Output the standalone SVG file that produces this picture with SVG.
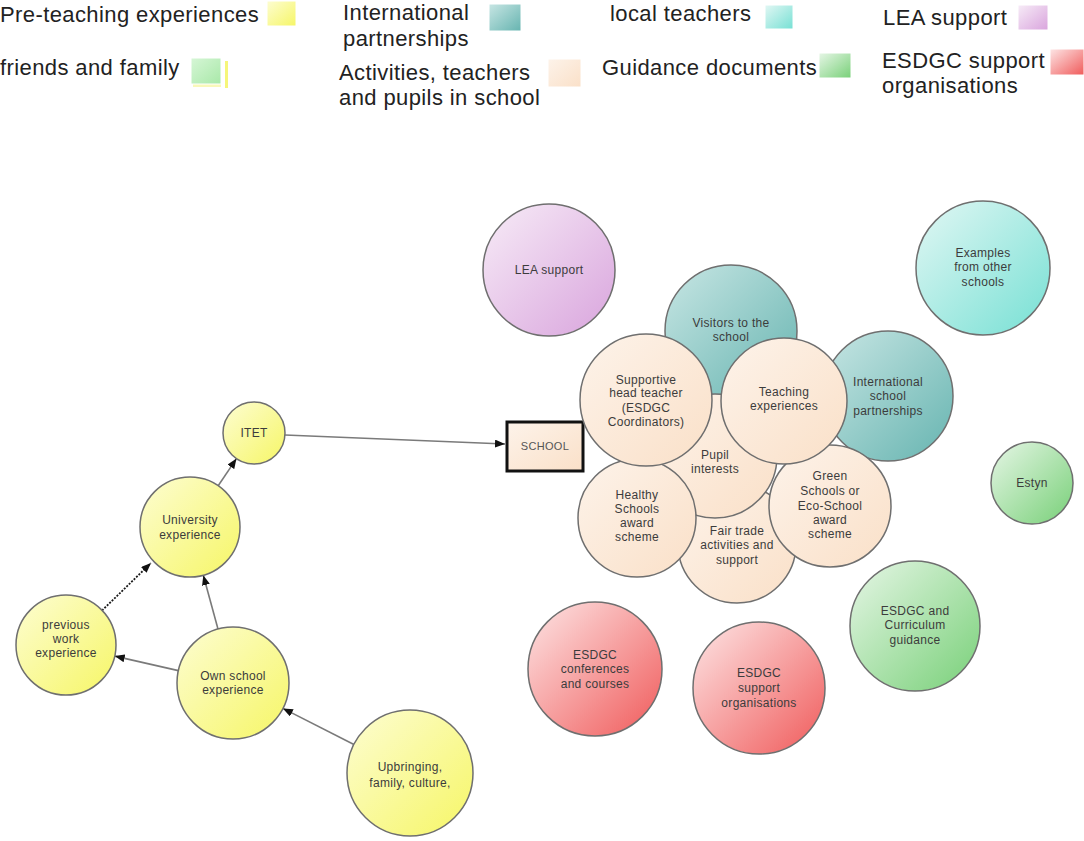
<svg xmlns="http://www.w3.org/2000/svg" width="1084" height="841" viewBox="0 0 1084 841">
  <defs>
    <linearGradient id="gYellow" x1="0" y1="0" x2="1" y2="1">
      <stop offset="0" stop-color="#fdfdd2"/><stop offset="1" stop-color="#f6f666"/>
    </linearGradient>
    <linearGradient id="gPeach" x1="0" y1="0" x2="1" y2="1">
      <stop offset="0" stop-color="#fdf3ea"/><stop offset="1" stop-color="#fae0c8"/>
    </linearGradient>
    <linearGradient id="gTeal" x1="0" y1="0" x2="1" y2="1">
      <stop offset="0" stop-color="#c8e6e4"/><stop offset="1" stop-color="#66b4b0"/>
    </linearGradient>
    <linearGradient id="gCyan" x1="0" y1="0" x2="1" y2="1">
      <stop offset="0" stop-color="#e2f7f4"/><stop offset="1" stop-color="#76e0d4"/>
    </linearGradient>
    <linearGradient id="gPurple" x1="0" y1="0" x2="1" y2="1">
      <stop offset="0" stop-color="#f7ecf7"/><stop offset="1" stop-color="#d9a4dd"/>
    </linearGradient>
    <linearGradient id="gGreen" x1="0" y1="0" x2="1" y2="1">
      <stop offset="0" stop-color="#e6f6e6"/><stop offset="1" stop-color="#78d078"/>
    </linearGradient>
    <linearGradient id="gLightGreen" x1="0" y1="0" x2="1" y2="1">
      <stop offset="0" stop-color="#d6f6d6"/><stop offset="1" stop-color="#a8e8a8"/>
    </linearGradient>
    <linearGradient id="gRed" x1="0" y1="0" x2="1" y2="1">
      <stop offset="0" stop-color="#fde6e6"/><stop offset="1" stop-color="#f05a5a"/>
    </linearGradient>
    <marker id="arrow" markerUnits="userSpaceOnUse" markerWidth="10" markerHeight="8" refX="10" refY="4" orient="auto">
      <path d="M0,0 L10,4 L0,8 z" fill="#111"/>
    </marker>
    <style>
      .legend { font-family: "Liberation Sans", Arial, sans-serif; font-size: 22px; letter-spacing: 0.4px; fill: #222; }
      .node circle { stroke: #6f6f6f; stroke-width: 1.5; }
      .node text { font-family: "Liberation Sans", Arial, sans-serif; font-size: 12px; letter-spacing: 0.3px; fill: #3c3c3c; text-anchor: middle; }
      .conn { stroke: #7a7a7a; stroke-width: 1.6; fill: none; marker-end: url(#arrow); }
      .dotted { stroke: #1a1a1a; stroke-width: 1.8; stroke-dasharray: 2 1.4; }
      .swatch { stroke: #ffffff; stroke-width: 1; }
    </style>
  </defs>

  <rect width="1084" height="841" fill="#ffffff"/>

  <!-- key -->
  <g id="legend">
    <text class="legend" x="0" y="22">Pre-teaching experiences</text>
    <rect class="swatch" x="267" y="1" width="29" height="25" fill="url(#gYellow)"/>

    <text class="legend" x="343" y="20">International</text>
    <text class="legend" x="343" y="46">partnerships</text>
    <rect class="swatch" x="489" y="4" width="32" height="27" fill="url(#gTeal)"/>

    <text class="legend" x="610" y="21">local teachers</text>
    <rect class="swatch" x="765" y="5" width="28" height="24" fill="url(#gCyan)"/>

    <text class="legend" x="883" y="25">LEA support</text>
    <rect class="swatch" x="1018" y="5" width="30" height="25" fill="url(#gPurple)"/>

    <text class="legend" x="0" y="75">friends and family</text>
    <rect x="193" y="61" width="28" height="26" fill="#f4f48a" opacity="0.6"/>
    <rect class="swatch" x="191" y="58" width="30" height="26" fill="url(#gLightGreen)"/>
    <rect x="225" y="61" width="3" height="27" fill="#f6f67a"/>

    <text class="legend" x="339" y="80">Activities, teachers</text>
    <text class="legend" x="339" y="105">and pupils in school</text>
    <rect class="swatch" x="548" y="59" width="33" height="28" fill="url(#gPeach)"/>

    <text class="legend" x="602" y="75">Guidance documents</text>
    <rect class="swatch" x="819" y="53" width="32" height="25" fill="url(#gGreen)"/>

    <text class="legend" x="882" y="68">ESDGC support</text>
    <text class="legend" x="882" y="93">organisations</text>
    <rect class="swatch" x="1050" y="49" width="34" height="26" fill="url(#gRed)"/>
  </g>

  <!-- connectors -->
  <g id="connectors">
    <path class="conn" d="M285,435 L505,444"/>
    <path class="conn" d="M218,486 L236.5,458.6"/>
    <path class="conn dotted" d="M102,610.5 L151,563"/>
    <path class="conn" d="M218,629 L203.3,575.2"/>
    <path class="conn" d="M178.4,670.6 L114.7,656.1"/>
    <path class="conn" d="M353.9,744.5 L282.9,708.4"/>
  </g>

  <!-- pre-teaching chain -->
  <g id="node-itet" class="node">
    <circle cx="254" cy="433" r="31" fill="url(#gYellow)"/>
    <text x="254" y="437">ITET</text>
  </g>
  <g id="node-university" class="node">
    <circle cx="190" cy="527" r="50" fill="url(#gYellow)"/>
    <text x="190" y="524">University</text>
    <text x="190" y="539">experience</text>
  </g>
  <g id="node-previous-work" class="node">
    <circle cx="66" cy="645" r="50" fill="url(#gYellow)"/>
    <text x="66" y="629">previous</text>
    <text x="66" y="643">work</text>
    <text x="66" y="657">experience</text>
  </g>
  <g id="node-own-school" class="node">
    <circle cx="233" cy="683" r="56" fill="url(#gYellow)"/>
    <text x="233" y="680">Own school</text>
    <text x="233" y="694">experience</text>
  </g>
  <g id="node-upbringing" class="node">
    <circle cx="410" cy="773" r="63" fill="url(#gYellow)"/>
    <text x="410" y="771">Upbringing,</text>
    <text x="410" y="787">family, culture,</text>
  </g>

  <!-- school -->
  <g id="node-school" class="node">
    <rect x="507" y="422" width="76" height="49" fill="url(#gPeach)" stroke="#111" stroke-width="3"/>
    <text x="545" y="450" style="font-size:11px; fill:#555">SCHOOL</text>
  </g>

  <g id="node-lea" class="node">
    <circle cx="549" cy="270" r="66" fill="url(#gPurple)"/>
    <text x="549" y="274">LEA support</text>
  </g>

  <g id="node-visitors" class="node">
    <circle cx="731" cy="331" r="66" fill="url(#gTeal)"/>
    <text x="731" y="327">Visitors to the</text>
    <text x="731" y="341">school</text>
  </g>
  <g id="node-international" class="node">
    <circle cx="888" cy="396" r="65" fill="url(#gTeal)"/>
    <text x="888" y="386">International</text>
    <text x="888" y="400">school</text>
    <text x="888" y="415">partnerships</text>
  </g>
  <g id="node-fairtrade" class="node">
    <circle cx="737" cy="544" r="59" fill="url(#gPeach)"/>
    <text x="737" y="535">Fair trade</text>
    <text x="737" y="549">activities and</text>
    <text x="737" y="564">support</text>
  </g>
  <g id="node-pupil" class="node">
    <circle cx="715" cy="456" r="62" fill="url(#gPeach)"/>
    <text x="715" y="459">Pupil</text>
    <text x="715" y="473">interests</text>
  </g>
  <g id="node-healthy" class="node">
    <circle cx="637" cy="518" r="59" fill="url(#gPeach)"/>
    <text x="637" y="499">Healthy</text>
    <text x="637" y="513">Schools</text>
    <text x="637" y="527">award</text>
    <text x="637" y="541">scheme</text>
  </g>
  <g id="node-green-schools" class="node">
    <circle cx="830" cy="506" r="61" fill="url(#gPeach)"/>
    <text x="830" y="480">Green</text>
    <text x="830" y="495">Schools or</text>
    <text x="830" y="510">Eco-School</text>
    <text x="830" y="524">award</text>
    <text x="830" y="538">scheme</text>
  </g>
  <g id="node-head-teacher" class="node">
    <circle cx="646" cy="400" r="66" fill="url(#gPeach)"/>
    <text x="646" y="384">Supportive</text>
    <text x="646" y="397">head teacher</text>
    <text x="646" y="412">(ESDGC</text>
    <text x="646" y="426">Coordinators)</text>
  </g>
  <g id="node-teaching" class="node">
    <circle cx="784" cy="401" r="63" fill="url(#gPeach)"/>
    <text x="784" y="396">Teaching</text>
    <text x="784" y="410">experiences</text>
  </g>

  <g id="node-examples" class="node">
    <circle cx="983" cy="268" r="67" fill="url(#gCyan)"/>
    <text x="983" y="257">Examples</text>
    <text x="983" y="271">from other</text>
    <text x="983" y="286">schools</text>
  </g>
  <g id="node-estyn" class="node">
    <circle cx="1032" cy="483" r="41" fill="url(#gGreen)"/>
    <text x="1032" y="487">Estyn</text>
  </g>
  <g id="node-curriculum" class="node">
    <circle cx="915" cy="626" r="65" fill="url(#gGreen)"/>
    <text x="915" y="615">ESDGC and</text>
    <text x="915" y="629">Curriculum</text>
    <text x="915" y="644">guidance</text>
  </g>
  <g id="node-conferences" class="node">
    <circle cx="595" cy="669" r="67" fill="url(#gRed)"/>
    <text x="595" y="659">ESDGC</text>
    <text x="595" y="673">conferences</text>
    <text x="595" y="688">and courses</text>
  </g>
  <g id="node-support-orgs" class="node">
    <circle cx="759" cy="688" r="66" fill="url(#gRed)"/>
    <text x="759" y="677">ESDGC</text>
    <text x="759" y="692">support</text>
    <text x="759" y="707">organisations</text>
  </g>
</svg>
